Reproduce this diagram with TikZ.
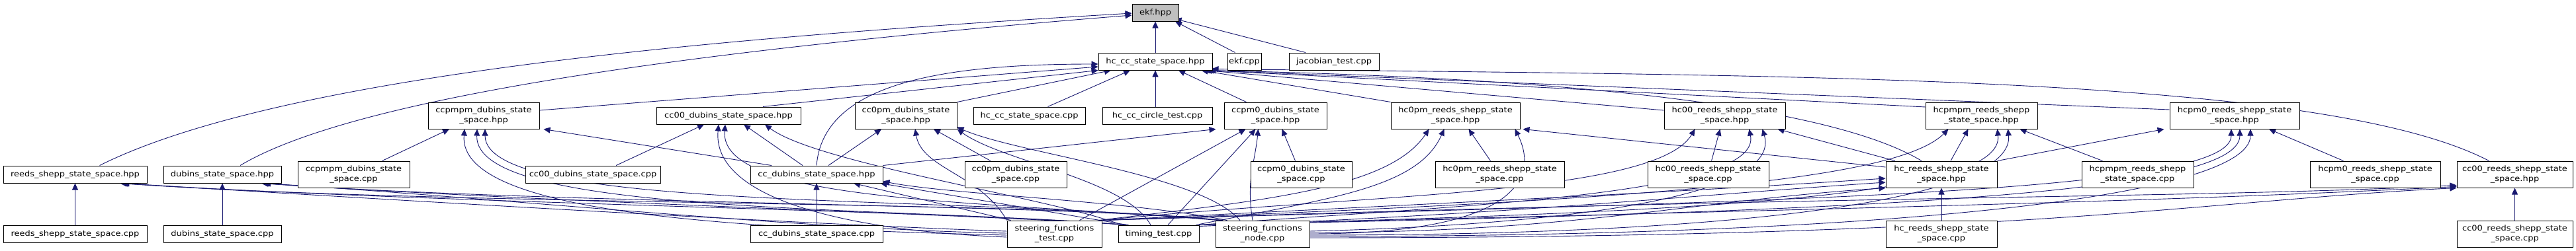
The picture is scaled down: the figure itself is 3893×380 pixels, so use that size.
\documentclass[tikz,border=0pt]{standalone}
\usepackage{fontspec}
\usetikzlibrary{arrows.meta}
\newfontfamily\dfont[FakeStretch=1.13]{DejaVu Sans}
\definecolor{edgec}{HTML}{191970}
\definecolor{hilite}{HTML}{BFBFBF}
\pgfdeclarelayer{edges}
\pgfsetlayers{edges,main}
\begin{document}
\begin{tikzpicture}[x=1pt,y=-1pt,
  sbox/.style={draw=black, line width=1pt, fill=white, inner sep=0pt, minimum height=26pt, align=center, font=\fontsize{11.5}{15}\dfont},
  dbox/.style={sbox, minimum height=40pt},
  dep/.style={draw=edgec, line width=0.9pt, -{Triangle[length=10pt,width=9pt]}, fill=none}]
\useasboundingbox (0,0) rectangle (3893,380);
% row 1
\node[sbox, fill=hilite, minimum width=70pt] (ekf_h) at (1746,19) {ekf.hpp};
% row 2
\node[sbox, minimum width=172pt] (hccc_h) at (1746,93) {hc\_cc\_state\_space.hpp};
\node[sbox, minimum width=51pt] (ekf_c) at (1880.5,93) {ekf.cpp};
\node[sbox, minimum width=136pt] (jac) at (2016,93) {jacobian\_test.cpp};
% row 3
\node[dbox, minimum width=168pt] (ccpmpm_h) at (731,175) {ccpmpm\_dubins\_state\\\_space.hpp};
\node[sbox, minimum width=218pt] (cc00d_h) at (1101,175) {cc00\_dubins\_state\_space.hpp};
\node[dbox, minimum width=154pt] (cc0pm_h) at (1369,175) {cc0pm\_dubins\_state\\\_space.hpp};
\node[sbox, minimum width=169pt] (hccc_c) at (1555.5,175) {hc\_cc\_state\_space.cpp};
\node[sbox, minimum width=166pt] (hcct) at (1749,175) {hc\_cc\_circle\_test.cpp};
\node[dbox, minimum width=155pt] (ccpm0_h) at (1927.5,175) {ccpm0\_dubins\_state\\\_space.hpp};
\node[dbox, minimum width=195pt] (hc0pm_h) at (2199.5,175) {hc0pm\_reeds\_shepp\_state\\\_space.hpp};
\node[dbox, minimum width=183pt] (hc00_h) at (2606.5,175) {hc00\_reeds\_shepp\_state\\\_space.hpp};
\node[dbox, minimum width=169pt] (hcpmpm_h) at (2994.5,175) {hcpmpm\_reeds\_shepp\\\_state\_space.hpp};
\node[dbox, minimum width=196pt] (hcpm0_h) at (3377,175) {hcpm0\_reeds\_shepp\_state\\\_space.hpp};
% row 4
\node[sbox, minimum width=217pt] (rs_h) at (113.5,264) {reeds\_shepp\_state\_space.hpp};
\node[sbox, minimum width=178pt] (db_h) at (336,264) {dubins\_state\_space.hpp};
\node[dbox, minimum width=169pt] (ccpmpm_c) at (534.5,264) {ccpmpm\_dubins\_state\\\_space.cpp};
\node[sbox, minimum width=204pt] (cc00d_c) at (896,264) {cc00\_dubins\_state\_space.cpp};
\node[sbox, minimum width=200pt] (ccd_h) at (1234,264) {cc\_dubins\_state\_space.hpp};
\node[dbox, minimum width=154pt] (cc0pm_c) at (1535,264) {cc0pm\_dubins\_state\\\_space.cpp};
\node[dbox, minimum width=153pt] (ccpm0_c) at (1966.5,264) {ccpm0\_dubins\_state\\\_space.cpp};
\node[dbox, minimum width=195pt] (hc0pm_c) at (2266.5,264) {hc0pm\_reeds\_shepp\_state\\\_space.cpp};
\node[dbox, minimum width=183pt] (hc00_c) at (2581.5,264) {hc00\_reeds\_shepp\_state\\\_space.cpp};
\node[dbox, minimum width=168pt] (hcrs_h) at (2934,264) {hc\_reeds\_shepp\_state\\\_space.hpp};
\node[dbox, minimum width=169pt] (hcpmpm_c) at (3230.5,264) {hcpmpm\_reeds\_shepp\\\_state\_space.cpp};
\node[dbox, minimum width=197pt] (hcpm0_c) at (3589.5,264) {hcpm0\_reeds\_shepp\_state\\\_space.cpp};
\node[dbox, minimum width=175pt] (cc00rs_h) at (3800.5,264) {cc00\_reeds\_shepp\_state\\\_space.hpp};
% row 5
\node[sbox, minimum width=217pt] (rs_c) at (113.5,354) {reeds\_shepp\_state\_space.cpp};
\node[sbox, minimum width=178pt] (db_c) at (336,354) {dubins\_state\_space.cpp};
\node[sbox, minimum width=200pt] (ccd_c) at (1234,354) {cc\_dubins\_state\_space.cpp};
\node[dbox, minimum width=143pt] (sft) at (1593.5,354) {steering\_functions\\\_test.cpp};
\node[sbox, minimum width=122pt] (tt) at (1751,354) {timing\_test.cpp};
\node[dbox, minimum width=142pt] (sfn) at (1908,354) {steering\_functions\\\_node.cpp};
\node[dbox, minimum width=168pt] (hcrs_c) at (2934,354) {hc\_reeds\_shepp\_state\\\_space.cpp};
\node[dbox, minimum width=175pt] (cc00rs_c) at (3800.5,354) {cc00\_reeds\_shepp\_state\\\_space.cpp};

\begin{pgfonlayer}{edges}
% ---- edges into ekf.hpp
\draw[dep] (hccc_h) -- (ekf_h);
\draw[dep] ([xshift=-14pt]ekf_c.north) -- ([xshift=30pt]ekf_h.south);
\draw[dep] ([xshift=-43pt]jac.north) -- ([xshift=-6pt,yshift=4pt]ekf_h.south east);
\draw[dep] ([xshift=37pt]rs_h.north) .. controls +(300,-150) and +(-500,30) .. ([yshift=-1pt]ekf_h.west);
\draw[dep] ([xshift=27pt]db_h.north) .. controls +(200,-120) and +(-500,40) .. ([yshift=-4pt]ekf_h.west);

% ---- edges into hc_cc_state_space.hpp
\draw[dep] ([yshift=8pt]ccpmpm_h.east) -- ([yshift=-8pt]hccc_h.west);
\draw[dep] ([xshift=52pt]cc00d_h.north) -- (hccc_h.south west);
\draw[dep] (ccd_h.north) .. controls +(10,-120) and +(-250,0) .. ([yshift=-4pt]hccc_h.west);
\draw[dep] (cc0pm_h.north east) -- ([xshift=-67pt]hccc_h.south);
\draw[dep] ([xshift=28pt]hccc_c.north) -- ([xshift=-38pt]hccc_h.south);
\draw[dep] ([xshift=-3pt]hcct.north) -- (hccc_h.south);
\draw[dep] ([xshift=-44pt]ccpm0_h.north) -- ([xshift=35pt]hccc_h.south);
\draw[dep] (hc0pm_h.north west) -- ([xshift=-17pt]hccc_h.south east);
\draw[dep] ([yshift=8pt]hc00_h.west) -- ([xshift=-11pt]hccc_h.south east);
\draw[dep] ([yshift=13pt]hcpmpm_h.west) -- ([xshift=-8pt]hccc_h.south east);
\draw[dep] ([yshift=9pt]hcpm0_h.west) -- ([xshift=-5pt]hccc_h.south east);
\draw[dep] ([xshift=-30pt]hcrs_h.north) .. controls +(-150,-90) and +(500,10) .. ([xshift=-14pt]hccc_h.south east);
\draw[dep] ([xshift=-39pt]cc00rs_h.north) .. controls +(-250,-130) and +(900,10) .. ([xshift=-1pt,yshift=2pt]hccc_h.south east);

% ---- row 4 -> row 3
\draw[dep] ([xshift=43pt]ccpmpm_c.north) -- ([xshift=-52pt]ccpmpm_h.south);
\draw[dep] ([xshift=35pt]cc00d_c.north) -- ([xshift=-37pt]cc00d_h.south);
\draw[dep] ([xshift=-68pt]ccd_h.north) -- ([xshift=6pt]ccpmpm_h.south east);
\draw[dep] ([xshift=-21pt]ccd_h.north) -- ([xshift=23pt]cc00d_h.south);
\draw[dep] ([xshift=18pt]ccd_h.north) -- ([xshift=-37pt]cc0pm_h.south);
\draw[dep] (ccd_h.north east) -- ([xshift=-12pt]ccpm0_h.south west);
\draw[dep] ([xshift=-38pt]cc0pm_c.north) -- ([xshift=42pt]cc0pm_h.south);
\draw[dep] ([xshift=-9pt]ccpm0_c.north) -- ([xshift=10pt]ccpm0_h.south);
\draw[dep] ([xshift=-14pt]hc0pm_c.north) -- ([xshift=20pt]hc0pm_h.south);
\draw[dep] ([xshift=5pt]hc00_c.north) -- ([xshift=-7pt]hc00_h.south);
\draw[dep] ([yshift=11pt]hcrs_h.west) -- ([xshift=4pt]hc0pm_h.south east);
\draw[dep] ([xshift=-70pt]hcrs_h.north) -- ([xshift=80pt]hc00_h.south);
\draw[dep] ([xshift=14pt]hcrs_h.north) -- ([xshift=-20pt]hcpmpm_h.south);
\draw[dep] (hcrs_h.north east) -- ([xshift=-8pt]hcpm0_h.south west);
\draw[dep] ([xshift=-53pt]hcpmpm_c.north) -- ([xshift=58pt]hcpmpm_h.south);
\draw[dep] ([xshift=-48pt]hcpm0_c.north) -- ([xshift=52pt]hcpm0_h.south);

% ---- row 5 -> row 4 (own implementation files)
\draw[dep] (rs_c) -- (rs_h);
\draw[dep] (db_c) -- (db_h);
\draw[dep] (ccd_c) -- (ccd_h);
\draw[dep] (hcrs_c) -- (hcrs_h);
\draw[dep] (cc00rs_c) -- (cc00rs_h);

% ---- tests / node -> reeds_shepp_state_space.hpp, dubins_state_space.hpp
\draw[dep] ([yshift=4pt]sft.west) .. controls +(-300,-10) and +(400,25) .. ([xshift=72pt]rs_h.south);
\draw[dep] ([xshift=10pt]tt.north west) .. controls +(-200,-20) and +(450,30) .. ([xshift=70pt]rs_h.south);
\draw[dep] ([xshift=8pt]sfn.north west) .. controls +(-250,-30) and +(500,35) .. ([xshift=68pt]rs_h.south);
\draw[dep] ([yshift=1pt]sft.west) .. controls +(-300,-5) and +(350,22) .. ([xshift=63pt]db_h.south);
\draw[dep] ([xshift=12pt]tt.north west) .. controls +(-200,-15) and +(400,28) .. ([xshift=61pt]db_h.south);
\draw[dep] ([xshift=10pt]sfn.north west) .. controls +(-250,-25) and +(450,32) .. ([xshift=59pt]db_h.south);

% ---- -> ccpmpm_dubins_state_space.hpp
\draw[dep] ([yshift=-2pt]sft.west) .. controls +(-400,-10) and +(-10,130) .. ([xshift=-29pt]ccpmpm_h.south);
\draw[dep] ([xshift=16pt]tt.north west) .. controls +(-400,-30) and +(-5,130) .. ([xshift=-10pt]ccpmpm_h.south);
\draw[dep] ([xshift=12pt]sfn.north west) .. controls +(-450,-40) and +(0,125) .. ([xshift=2pt]ccpmpm_h.south);

% ---- -> cc00_dubins_state_space.hpp
\draw[dep] ([yshift=-5pt]sft.west) .. controls +(-250,-10) and +(-10,110) .. ([xshift=-15pt]cc00d_h.south);
\draw[dep] ([xshift=5pt]tt.north west) .. controls +(-100,-40) and +(80,60) .. ([xshift=55pt]cc00d_h.south);
\draw[dep] ([xshift=4pt]sfn.north west) .. controls +(-350,-30) and +(-10,120) .. ([xshift=-5pt]cc00d_h.south);

% ---- -> cc_dubins_state_space.hpp
\draw[dep] ([xshift=6pt]sft.north west) -- ([xshift=56pt]ccd_h.south);
\draw[dep] ([xshift=14pt]tt.north west) -- ([xshift=-4pt]ccd_h.south east);
\draw[dep] ([xshift=18pt]sfn.north west) .. controls +(-150,-30) and +(100,20) .. ([yshift=3pt]ccd_h.south east);

% ---- -> cc0pm_dubins_state_space.hpp
\draw[dep] (sft.north west) .. controls +(-40,-70) and +(10,60) .. ([xshift=14pt]cc0pm_h.south);
\draw[dep] ([xshift=-12pt]tt.north) .. controls +(-40,-70) and +(70,50) .. (cc0pm_h.south east);
\draw[dep] ([xshift=-34pt]sfn.north) .. controls +(-60,-70) and +(90,40) .. ([yshift=3pt]cc0pm_h.south east);

% ---- -> ccpm0_dubins_state_space.hpp
\draw[dep] ([xshift=38pt]sft.north) -- ([xshift=-45pt]ccpm0_h.south);
\draw[dep] ([xshift=14pt]tt.north) -- ([xshift=-30pt]ccpm0_h.south);
\draw[dep] ([xshift=-15pt]sfn.north) .. controls +(-10,-60) and +(-5,50) .. ([xshift=-26pt]ccpm0_h.south);

% ---- -> hc0pm_reeds_shepp_state_space.hpp
\draw[dep] ([xshift=-5pt]sft.north east) .. controls +(250,-30) and +(-60,90) .. ([xshift=-40pt]hc0pm_h.south);
\draw[dep] ([xshift=-5pt]tt.north east) .. controls +(200,-40) and +(-40,90) .. ([xshift=-17pt]hc0pm_h.south);
\draw[dep] (sfn.east) .. controls +(300,0) and +(40,80) .. ([xshift=90pt]hc0pm_h.south);

% ---- -> hc00_reeds_shepp_state_space.hpp
\draw[dep] ([xshift=-2pt]sft.north east) .. controls +(400,-40) and +(-60,100) .. ([xshift=-45pt]hc00_h.south);
\draw[dep] (tt.north east) .. controls +(400,-30) and +(20,100) .. ([xshift=37pt]hc00_h.south);
\draw[dep] ([yshift=4pt]sfn.east) .. controls +(400,-10) and +(30,100) .. ([xshift=57pt]hc00_h.south);

% ---- -> hc_reeds_shepp_state_space.hpp
\draw[dep] (sft.north east) .. controls +(600,-30) and +(-300,20) .. ([yshift=-6pt]hcrs_h.west);
\draw[dep] ([yshift=-2pt]tt.north east) .. controls +(500,-20) and +(-300,20) .. ([yshift=-12pt]hcrs_h.west);
\draw[dep] ([yshift=2pt]sfn.east) .. controls +(400,0) and +(-300,20) .. (hcrs_h.south west);

% ---- -> hcpmpm_reeds_shepp_state_space.hpp
\draw[dep] (sft.north east) .. controls +(800,-30) and +(-80,80) .. ([xshift=-50pt]hcpmpm_h.south);
\draw[dep] (tt.north east) .. controls +(800,-20) and +(10,100) .. ([xshift=24pt]hcpmpm_h.south);
\draw[dep] ([yshift=-2pt]sfn.east) .. controls +(700,0) and +(10,100) .. ([xshift=40pt]hcpmpm_h.south);

% ---- -> hcpm0_reeds_shepp_state_space.hpp
\draw[dep] (sft.north east) .. controls +(1000,-30) and +(0,100) .. ([xshift=-5pt]hcpm0_h.south);
\draw[dep] (tt.north east) .. controls +(1000,-20) and +(0,100) .. ([xshift=8pt]hcpm0_h.south);
\draw[dep] ([yshift=-4pt]sfn.east) .. controls +(900,0) and +(0,100) .. ([xshift=24pt]hcpm0_h.south);

% ---- -> cc00_reeds_shepp_state_space.hpp
\draw[dep] (sft.north east) .. controls +(1200,-40) and +(-400,20) .. ([yshift=4pt]cc00rs_h.south west);
\draw[dep] (tt.north east) .. controls +(1200,-30) and +(-400,20) .. ([yshift=2pt]cc00rs_h.south west);
\draw[dep] ([yshift=-6pt]sfn.east) .. controls +(1100,0) and +(-400,20) .. (cc00rs_h.south west);
\end{pgfonlayer}
\end{tikzpicture}
\end{document}
